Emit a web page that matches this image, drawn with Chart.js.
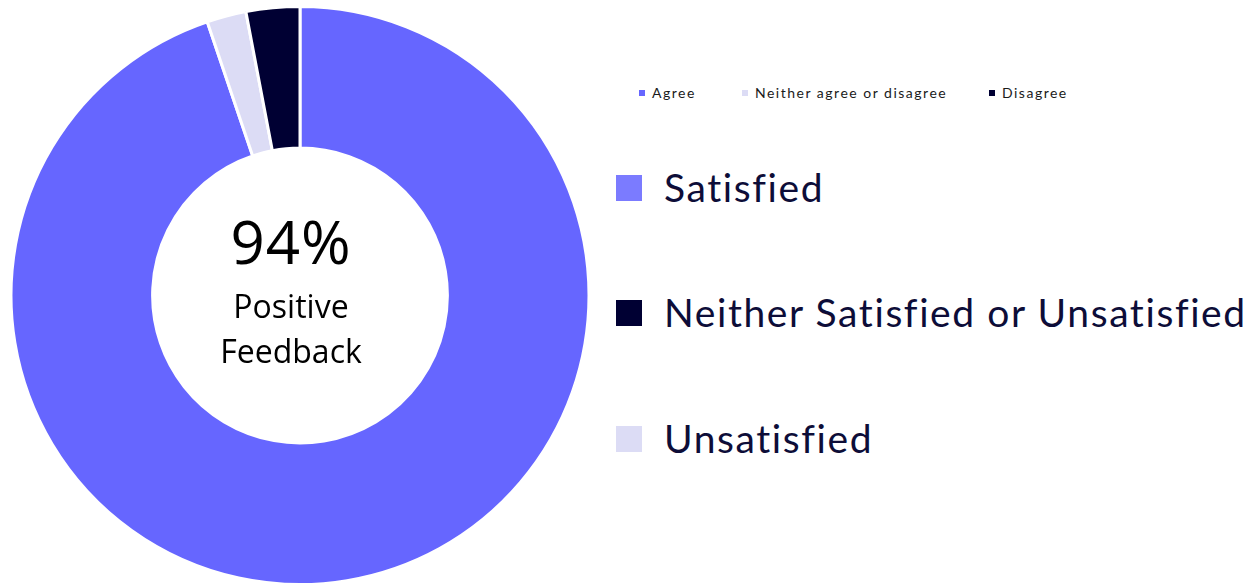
<!DOCTYPE html>
<html><head><meta charset="UTF-8">
<title>Positive Feedback</title>
<script src="https://cdn.jsdelivr.net/npm/chart.js"></script>
<style>
  body { margin: 0; background: #ffffff; width: 1256px; height: 586px; position: relative; overflow: hidden; font-family: 'Open Sans', sans-serif; }
  #wrap { position: absolute; left: 0; top: 0; width: 600px; height: 586px; }
  .center { position: absolute; left: 191px; width: 200px; text-align: center; color: #000; }
  .pct { top: 203px; font-size: 60px; line-height: 76px; letter-spacing: 1px; }
  .lbl { top: 283px; font-size: 32px; line-height: 45px; }
  .small-legend { position: absolute; top: 84px; left: 638px; font-family: 'Lato', sans-serif; font-size: 14px; color: #1a1a1a; white-space: nowrap; letter-spacing: 1.5px; }
  .small-legend span.item { position: absolute; top: 0; line-height: 18px; }
  .small-legend i { display: inline-block; width: 6px; height: 6px; margin-right: 7px; vertical-align: 2px; }
  .big-legend { position: absolute; left: 616px; font-family: 'Lato', sans-serif; font-size: 39px; color: #0d0d38; white-space: nowrap; letter-spacing: 1.6px; }
  .big-legend div { position: absolute; left: 0; line-height: 50px; }
  .big-legend i { display: inline-block; width: 26px; height: 26px; margin-right: 22px; vertical-align: 1px; }
</style></head>
<body>
<div id="wrap"><canvas id="donut" width="600" height="586"></canvas></div>
<div class="center pct" id="pct"></div>
<div class="center lbl" id="lbl"></div>
<div class="small-legend" id="smallLegend"></div>
<div class="big-legend" id="bigLegend"></div>
<script>
const labels = ['Agree', 'Neither agree or disagree', 'Disagree'];
const values = [94.8, 2.2, 3.0];
const colors = ['#6666ff', '#dcdcf5', '#000033'];

const summaryLabels = ['Satisfied', 'Neither Satisfied or Unsatisfied', 'Unsatisfied'];
const summaryColors = ['#7b7bff', '#000033', '#dcdcf5'];
const centerValue = '94%';
const centerText = ['Positive', 'Feedback'];

new Chart(document.getElementById('donut').getContext('2d'), {
  type: 'doughnut',
  data: {
    labels: labels,
    datasets: [{
      data: values,
      backgroundColor: colors,
      borderColor: '#ffffff',
      borderWidth: 3
    }]
  },
  options: {
    responsive: false,
    animation: false,
    cutout: '51%',
    layout: { padding: { top: 5, bottom: 0, left: 9, right: 9 } },
    plugins: {
      legend: { display: false },
      tooltip: { enabled: false }
    }
  }
});

document.getElementById('pct').textContent = centerValue;
document.getElementById('lbl').innerHTML = centerText.join('<br>');

// small legend across the top
const smallX = [1, 104, 351];
document.getElementById('smallLegend').innerHTML = labels.map((l, i) =>
  `<span class="item" style="left:${smallX[i]}px"><i style="background:${colors[i]}"></i>${l}</span>`).join('');

// big summary legend
const bigY = [162, 287, 413];
const big = document.getElementById('bigLegend');
big.innerHTML = summaryLabels.map((l, i) =>
  `<div style="top:${bigY[i]}px"><i style="background:${summaryColors[i]}"></i>${l}</div>`).join('');
</script>
</body></html>
